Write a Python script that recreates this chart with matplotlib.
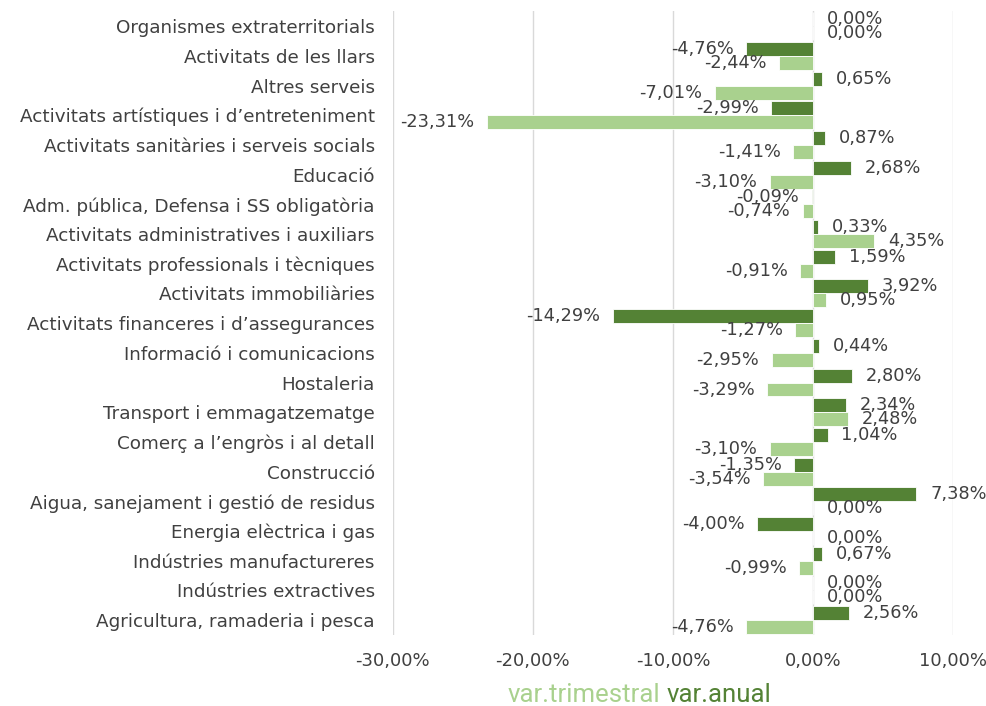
import matplotlib
matplotlib.use("Agg")
import matplotlib.pyplot as plt
import numpy as np
from matplotlib.ticker import FuncFormatter

plt.rcParams['font.family'] = ['DejaVu Sans']

categories = [
    "Organismes extraterritorials",
    "Activitats de les llars",
    "Altres serveis",
    "Activitats artístiques i d\u2019entreteniment",
    "Activitats sanitàries i serveis socials",
    "Educació",
    "Adm. pública, Defensa i SS obligatòria",
    "Activitats administratives i auxiliars",
    "Activitats professionals i tècniques",
    "Activitats immobiliàries",
    "Activitats financeres i d\u2019assegurances",
    "Informació i comunicacions",
    "Hostaleria",
    "Transport i emmagatzematge",
    "Comerç a l\u2019engròs i al detall",
    "Construcció",
    "Aigua, sanejament i gestió de residus",
    "Energia elèctrica i gas",
    "Indústries manufactureres",
    "Indústries extractives",
    "Agricultura, ramaderia i pesca",
]
var_anual = [0.00, -4.76, 0.65, -2.99, 0.87, 2.68, -0.09, 0.33, 1.59, 3.92,
             -14.29, 0.44, 2.80, 2.34, 1.04, -1.35, 7.38, -4.00, 0.67, 0.00, 2.56]
var_trimestral = [0.00, -2.44, -7.01, -23.31, -1.41, -3.10, -0.74, 4.35, -0.91, 0.95,
                  -1.27, -2.95, -3.29, 2.48, -3.10, -3.54, 0.00, 0.00, -0.99, 0.00, -4.76]
xticks = [-30, -20, -10, 0, 10]

DARK = "#548235"
LIGHT = "#A9D18E"
TXT = "#404040"

fig = plt.figure(figsize=(9.87, 7.06), dpi=100)
ax = fig.add_axes([0.398, 0.1006, 0.5676, 0.8834])

n = len(categories)
y = np.arange(n)[::-1].astype(float)
h = 0.47

ax.barh(y + h/2, var_anual, height=h, color=DARK, edgecolor="white", linewidth=0.6, zorder=3)
ax.barh(y - h/2, var_trimestral, height=h, color=LIGHT, edgecolor="white", linewidth=0.6, zorder=3)

def fmt(v):
    return f"{v:.2f}".replace(".", ",") + "%"

for vals, off in ((var_anual, h/2), (var_trimestral, -h/2)):
    for yi, v in zip(y, vals):
        if v < 0:
            ax.annotate(fmt(v), (v, yi + off), xytext=(-9, 0), textcoords="offset points",
                        ha="right", va="center", fontsize=12.8, color=TXT, zorder=4)
        else:
            ax.annotate(fmt(v), (v, yi + off), xytext=(10, 0), textcoords="offset points",
                        ha="left", va="center", fontsize=12.8, color=TXT, zorder=4)

ax.set_xlim(-30, 10)
ax.set_ylim(-0.5, n - 0.5)
ax.set_xticks(xticks)
ax.xaxis.set_major_formatter(FuncFormatter(lambda v, p: f"{v:.2f}".replace(".", ",") + "%"))
ax.set_yticks(y)
ax.set_yticklabels(categories)
ax.tick_params(axis="y", length=0, pad=13, labelsize=13.2, labelcolor=TXT)
ax.tick_params(axis="x", length=0, pad=12, labelsize=13, labelcolor=TXT)
ax.grid(axis="x", color="#D9D9D9", linewidth=1, zorder=0)
for s in ax.spines.values():
    s.set_visible(False)

fig.text(0.669, 0.006, "var.trimestral", color=LIGHT, fontsize=18.5, ha="right", va="baseline",
         family=["Roboto", "DejaVu Sans"])
fig.text(0.675, 0.006, "var.anual", color=DARK, fontsize=18.5, ha="left", va="baseline",
         family=["Roboto", "DejaVu Sans"])

fig.savefig("out.png", dpi=100)
